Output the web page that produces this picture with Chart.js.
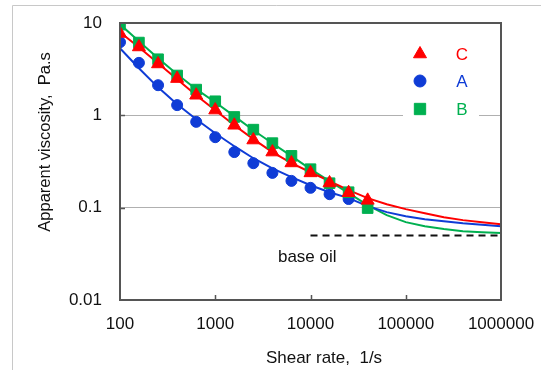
<!DOCTYPE html>
<html>
<head>
<meta charset="utf-8">
<script src="https://cdn.jsdelivr.net/npm/chart.js@4"></script>
<style>
  body { margin: 0; background: #fff; }
  #wrap { width: 541px; height: 370px; position: relative; }
</style>
</head>
<body>
<div id="wrap"><canvas id="myChart"></canvas></div>
<script>
// measured points (shear rate, 1/s -> apparent viscosity, Pa.s)
const shearRate = [100, 158, 251, 398, 631, 1000, 1585, 2512, 3981, 6310, 10000, 15849, 25119, 39811];
const visC = [7.7, 5.5, 3.6, 2.5, 1.65, 1.14, 0.78, 0.54, 0.40, 0.305, 0.238, 0.185, 0.145, 0.12];
const visA = [6.2, 3.7, 2.12, 1.29, 0.85, 0.58, 0.40, 0.303, 0.238, 0.195, 0.164, 0.14, 0.124];
const visB = [9.6, 6.14, 4.05, 2.7, 1.9, 1.42, 0.96, 0.70, 0.50, 0.364, 0.261, 0.184, 0.147, 0.099];

// fitted curves
const fitRate = [100, 158, 251, 398, 631, 1000, 1585, 2512, 3981, 6310, 10000, 15849, 25119, 39811,
  63096, 100000, 158489, 251189, 398107, 630957, 1000000];
const fitC = [7.93, 5.46, 3.66, 2.46, 1.65, 1.135, 0.78, 0.552, 0.399, 0.303, 0.242, 0.194, 0.155, 0.127,
  0.109, 0.0964, 0.0871, 0.0789, 0.0733, 0.0697, 0.0662];
const fitA = [5.32, 3.24, 2.01, 1.318, 0.908, 0.64, 0.463, 0.343, 0.267, 0.214, 0.175, 0.147, 0.127, 0.104,
  0.0895, 0.0809, 0.0751, 0.0714, 0.068, 0.0655, 0.0631];
const fitB = [9.68, 6.34, 4.15, 2.79, 1.92, 1.386, 0.98, 0.69, 0.499, 0.361, 0.261, 0.194, 0.1436, 0.1064,
  0.083, 0.0697, 0.063, 0.0586, 0.0557, 0.0543, 0.053];

// base oil level
const baseRate = [10000, 1000000];
const baseVis = [0.05, 0.05];
const baseLabel = { x: 4550, y: 0.029, text: 'base oil' };

const xTicks = [100, 1000, 10000, 100000, 1000000];
const yTicks = [0.01, 0.1, 1, 10];

const RED = '#ff0000';
const BLUE = '#0f3cd6';
const GREEN = '#00b050';
const FONT = '"Liberation Sans", Arial, sans-serif';

const toXY = (xs, ys) => ys.map((y, i) => ({ x: xs[i], y: y }));

const legendItems = [
  { label: 'C', color: RED, style: 'triangle', radius: 7.5 },
  { label: 'A', color: BLUE, style: 'circle', radius: 6 },
  { label: 'B', color: GREEN, style: 'rect', radius: 8 }
];

// frame, inner ticks, titles, legend, base oil text
const decorPlugin = {
  id: 'decor',
  beforeDraw(chart) {
    const c = chart.ctx;
    c.save();
    c.fillStyle = '#fff';
    c.fillRect(0, 0, chart.width, chart.height);
    c.strokeStyle = '#c8c8c8';
    c.lineWidth = 1;
    c.beginPath();
    c.moveTo(12.5, chart.height);
    c.lineTo(12.5, 5.5);
    c.lineTo(chart.width, 5.5);
    c.stroke();
    c.restore();
  },
  afterDatasetsDraw(chart) {
    const c = chart.ctx;
    const a = chart.chartArea;
    const xs = chart.scales.x;
    const ys = chart.scales.y;
    c.save();

    // base oil label
    c.fillStyle = '#111';
    c.font = '17px ' + FONT;
    c.textAlign = 'left';
    c.textBaseline = 'middle';
    c.fillText(baseLabel.text, xs.getPixelForValue(baseLabel.x), ys.getPixelForValue(baseLabel.y));

    // frame
    c.strokeStyle = '#555';
    c.lineWidth = 2;
    c.strokeRect(a.left, a.top, a.right - a.left, a.bottom - a.top);

    // inward tick marks
    c.lineWidth = 1.5;
    c.beginPath();
    xTicks.slice(1, -1).forEach(v => {
      const px = Math.round(xs.getPixelForValue(v)) + 0.5;
      c.moveTo(px, a.bottom);
      c.lineTo(px, a.bottom - 5);
    });
    yTicks.slice(1, -1).forEach(v => {
      const py = Math.round(ys.getPixelForValue(v)) + 0.5;
      c.moveTo(a.left, py);
      c.lineTo(a.left + 5, py);
    });
    c.stroke();

    // axis titles
    c.fillStyle = '#111';
    c.font = '17px ' + FONT;
    c.textAlign = 'center';
    c.textBaseline = 'middle';
    c.fillText('Shear rate,  1/s', 324, 358);
    c.font = '16.5px ' + FONT;
    c.translate(45, 142);
    c.rotate(-Math.PI / 2);
    c.fillText('Apparent viscosity,  Pa.s', 0, 0);
    c.restore();

    // legend
    c.save();
    c.fillStyle = '#fff';
    c.fillRect(403, 38, 76, 84);
    const rows = [54, 81, 109];
    legendItems.forEach((item, i) => {
      c.fillStyle = item.color;
      c.strokeStyle = item.color;
      Chart.helpers.drawPoint(c, { pointStyle: item.style, radius: item.radius, rotation: 0, borderWidth: 1 }, 420, rows[i]);
      c.font = '17px ' + FONT;
      c.textAlign = 'center';
      c.textBaseline = 'middle';
      c.fillText(item.label, 462, rows[i] + 1);
    });
    c.restore();
  }
};

const ctx = document.getElementById('myChart').getContext('2d');
const myChart = new Chart(ctx, {
  type: 'scatter',
  data: {
    datasets: [{
      label: 'C',
      data: toXY(shearRate, visC),
      pointStyle: 'triangle',
      pointRadius: 7.5,
      backgroundColor: RED,
      borderColor: RED,
      borderWidth: 1,
      order: 0
    }, {
      label: 'B',
      data: toXY(shearRate, visB),
      pointStyle: 'rect',
      pointRadius: 7.5,
      backgroundColor: GREEN,
      borderColor: GREEN,
      borderWidth: 1,
      order: 1
    }, {
      label: 'A',
      data: toXY(shearRate, visA),
      pointStyle: 'circle',
      pointRadius: 5.5,
      backgroundColor: BLUE,
      borderColor: BLUE,
      borderWidth: 1,
      order: 2
    }, {
      label: 'fit C',
      data: toXY(fitRate, fitC),
      showLine: true,
      pointRadius: 0,
      borderColor: RED,
      borderWidth: 2,
      order: 3
    }, {
      label: 'fit A',
      data: toXY(fitRate, fitA),
      showLine: true,
      pointRadius: 0,
      borderColor: BLUE,
      borderWidth: 2,
      order: 4
    }, {
      label: 'fit B',
      data: toXY(fitRate, fitB),
      showLine: true,
      pointRadius: 0,
      borderColor: GREEN,
      borderWidth: 2,
      order: 5
    }, {
      label: 'base oil',
      data: toXY(baseRate, baseVis),
      showLine: true,
      pointRadius: 0,
      borderColor: '#111',
      borderWidth: 2,
      borderDash: [7, 5],
      order: 6
    }]
  },
  options: {
    responsive: true,
    maintainAspectRatio: false,
    animation: false,
    layout: { padding: { top: 23, right: 40, left: 0, bottom: 0 } },
    plugins: {
      legend: { display: false },
      tooltip: { enabled: false }
    },
    scales: {
      x: {
        type: 'logarithmic',
        min: 100,
        max: 1000000,
        afterBuildTicks: (scale) => { scale.ticks = xTicks.map(v => ({ value: v })); },
        afterFit: (scale) => {
          scale.height = 70;
          scale.paddingLeft = 0;
          scale.paddingRight = 0;
        },
        grid: { display: false },
        border: { display: false },
        ticks: {
          padding: 6,
          color: '#111',
          font: { family: FONT, size: 17 },
          maxRotation: 0,
          callback: (v) => String(v)
        }
      },
      y: {
        type: 'logarithmic',
        min: 0.01,
        max: 10,
        afterBuildTicks: (scale) => { scale.ticks = yTicks.map(v => ({ value: v })); },
        afterFit: (scale) => {
          scale.width = 120;
          scale.paddingTop = 0;
          scale.paddingBottom = 0;
        },
        grid: { color: '#b0b0b0', lineWidth: 1, drawTicks: false },
        border: { display: false },
        ticks: {
          padding: 18,
          color: '#111',
          font: { family: FONT, size: 17 },
          callback: (v) => String(v)
        }
      }
    }
  },
  plugins: [decorPlugin]
});
</script>
</body>
</html>
